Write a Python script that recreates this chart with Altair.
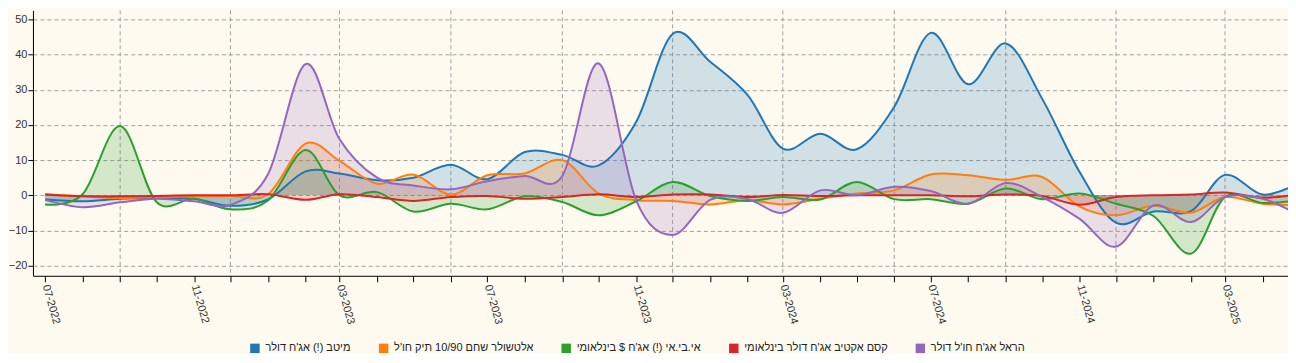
import altair as alt
import pandas as pd

# ---- data -------------------------------------------------------------
months = pd.date_range("2022-07-01", "2025-05-01", freq="MS")

names = [
    "מיטב (!) אג'ח דולר",
    "אלטשולר שחם 10/90 תיק חו'ל",
    "אי.בי.אי (!) אג'ח $ בינלאומי",
    "קסם אקטיב אג'ח דולר בינלאומי",
    "הראל אג'ח חו'ל דולר",
]
colors = ["#1f77b4", "#ff7f0e", "#2ca02c", "#d62728", "#9467bd"]

meitav = [-1.2, -1.7, -1.0, -0.8, -1.0, -3.0,
          -1.2, 6.8, 6.2, 4.3, 5.0, 8.7, 4.6, 12.3, 11.5, 8.5, 20.9, 45.9,
          38.0, 28.5, 13.3, 17.5, 13.1, 25.2, 46.2, 31.6, 43.2, 27.5, 6.6, -7.8,
          -4.6, -4.5, 5.8, 0.2, 3.5]
altshuler = [0.3, -0.3, -0.8, -0.5, -0.3, -0.2,
             0.3, 14.7, 9.8, 3.3, 5.9, 0.2, 5.7, 6.2, 10.0, 0.5, -1.4, -1.6,
             -2.6, -1.4, -2.6, -1.0, 0.5, 1.4, 5.9, 5.7, 4.4, 5.2, -3.2, -5.7,
             -3.0, -5.0, -0.5, -2.4, -2.8]
ibi = [-2.6, 0.3, 19.7, -1.9, -1.0, -4.0,
       -1.5, 12.9, 0.0, 0.9, -4.6, -2.4, -4.0, -0.3, -1.9, -5.7, -1.7, 3.8,
       -0.2, -1.6, -0.5, -1.2, 3.8, -1.1, -1.1, -2.4, 1.9, -1.1, 0.5, -2.4,
       -5.9, -16.6, -0.5, -2.2, -1.4]
kesem = [0.2, -0.3, -0.3, -0.2, 0.0, 0.0,
         0.3, -1.3, 0.3, -0.5, -1.6, -0.5, -0.2, -1.0, -0.5, 0.3, -0.5, 0.2,
         0.2, -0.5, 0.1, -0.2, 0.0, 0.0, 0.0, -0.3, 0.2, -0.2, -2.7, -0.5,
         0.0, 0.2, 0.8, -0.7, 0.3]
harel = [-1.3, -3.4, -2.0, -1.0, -1.7, -2.7,
         6.0, 37.3, 16.0, 5.0, 2.8, 1.7, 4.0, 5.5, 5.5, 37.5, -1.5, -11.3,
         -1.3, -1.1, -5.0, 1.4, 0.0, 2.4, 1.2, -2.4, 3.5, -0.5, -6.7, -14.6,
         -2.9, -7.6, -0.5, -1.0, -5.7]

series = [meitav, altshuler, ibi, kesem, harel]

y_ticks = [-20, -10, 0, 10, 20, 30, 40, 50]
grid_dates = pd.date_range("2022-09-01", "2025-03-01", freq="3MS")
tick_dates = pd.date_range("2022-07-01", "2025-04-01", freq="MS")
x_start, x_end = "2022-06-21", "2025-04-22"
y_min, y_max = -22.9, 52.6


def ms(ts):
    return int(pd.Timestamp(ts).value // 10**6)


rows = []
for name, vals in zip(names, series):
    for d, v in zip(months, vals):
        rows.append({"date": d.strftime("%Y-%m-%d"), "series": name, "value": v})
df = pd.DataFrame(rows)
grid_df = pd.DataFrame({"date": [d.strftime("%Y-%m-%d") for d in grid_dates]})

x_scale = alt.Scale(type="utc", domain=[ms(x_start), ms(x_end)], nice=False)
y_scale = alt.Scale(domain=[y_min, y_max], nice=False, zero=False)

font = "Arial"

x_axis = alt.Axis(
    values=[ms(d) for d in tick_dates],
    labelExpr="utcmonth(datum.value) % 4 == 2 ? utcFormat(datum.value, '%m-%Y') : ''",
    labelAngle=74, labelAlign="left", labelBaseline="middle",
    grid=False, title=None, tickSize=6, tickColor="#000", domainColor="#000",
    labelFont=font, labelFontSize=11, labelColor="#333", labelPadding=3,
    labelOverlap=False, labelFlush=False,
)
y_axis = alt.Axis(
    values=y_ticks, title=None, grid=True, gridDash=[4, 3], gridColor="#a0a0a0",
    tickSize=5, tickColor="#000", domainColor="#000", labelPadding=1,
    labelFont=font, labelFontSize=11, labelColor="#333",
)

vgrid = alt.Chart(grid_df).mark_rule(
    strokeDash=[4, 3], color="#a0a0a0", strokeWidth=1
).encode(x=alt.X("date:T", scale=x_scale, axis=x_axis))

color = alt.Color(
    "series:N",
    scale=alt.Scale(domain=names, range=colors),
    sort=names,
    legend=alt.Legend(
        title=None, orient="none", direction="horizontal", columns=5,
        legendX=217, legendY=333, symbolType="square", symbolSize=90,
        symbolOpacity=1, symbolStrokeWidth=0, columnPadding=27,
        labelFont=font, labelFontSize=11, labelColor="#222", labelLimit=400,
        labelOffset=5, padding=0,
    ),
)

areas = alt.Chart(df).mark_area(
    interpolate="cardinal", clip=True, fillOpacity=0.2,
    line={"strokeWidth": 2, "interpolate": "cardinal", "clip": True},
).encode(
    x=alt.X("date:T", scale=x_scale, axis=x_axis),
    y=alt.Y("value:Q", scale=y_scale, axis=y_axis, stack=None),
    y2=alt.datum(0),
    color=color,
    detail="series:N",
)

chart = alt.layer(vgrid, areas).properties(
    width=1258, height=266,
    background="#fefaf0",
    padding={"left": 0, "top": 1, "right": 0, "bottom": 0},
).configure_view(strokeWidth=0)

chart.save("out.html", embed_options={"renderer": "svg", "actions": False})
